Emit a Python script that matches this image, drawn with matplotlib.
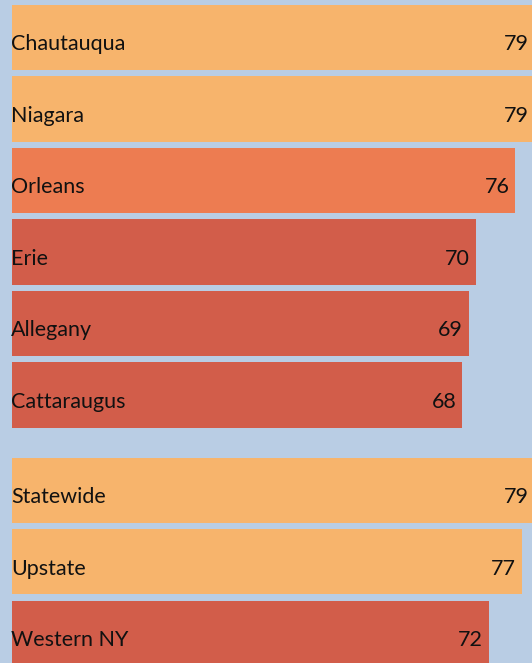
import matplotlib.pyplot as plt
from matplotlib import transforms

# data
counties = ['Chautauqua', 'Niagara', 'Orleans', 'Erie', 'Allegany', 'Cattaraugus']
county_vals = [79, 79, 76, 70, 69, 68]
regions = ['Statewide', 'Upstate', 'Western NY']
region_vals = [79, 77, 72]

light = '#F7B46C'
mid = '#ED7C51'
dark = '#D25D4A'
bg = '#B9CDE4'

county_colors = [light, light, mid, dark, dark, dark]
region_colors = [light, light, dark]

labels = counties + regions
values = county_vals + region_vals
colors = county_colors + region_colors

# slot positions: second group sits a bit lower than the next slot
gap = 0.33
pos = list(range(len(counties))) + [len(counties) + gap + i for i in range(len(regions))]

plt.rcParams['font.family'] = ['Lato', 'DejaVu Sans']

fig = plt.figure(figsize=(5.32, 6.63), dpi=100)
fig.patch.set_facecolor(bg)
ax = fig.add_axes([12 / 532, 0, 520 / 532, 1])
ax.set_facecolor(bg)

ax.barh(pos, values, height=0.91, color=colors, edgecolor='none')

ax.set_xlim(0, 78.5)
ax.set_ylim(8.748, -0.524)
ax.axis('off')

shift = transforms.offset_copy(ax.transData, fig=fig, x=-1, y=-7, units='dots')
for p, lab, v in zip(pos, labels, values):
    ax.text(0, p, lab, transform=shift, ha='left', va='center',
            fontsize=15.5, color='#111111')
    ax.annotate(str(v), xy=(v, p), xytext=(-6, -7), textcoords='offset pixels',
                ha='right', va='center', fontsize=15.5, color='#111111',
                annotation_clip=False)

fig.savefig('out.png', dpi=100, facecolor=bg)
